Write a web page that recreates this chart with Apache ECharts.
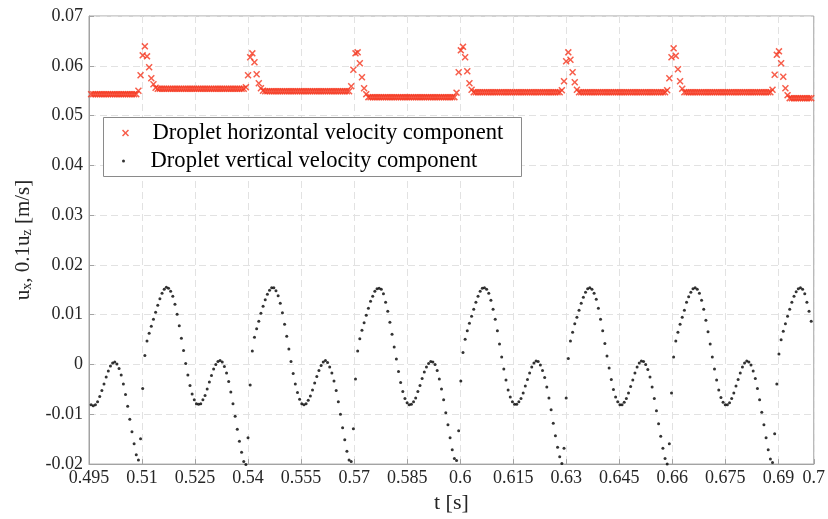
<!DOCTYPE html>
<html>
<head>
<meta charset="utf-8">
<script src="https://cdn.jsdelivr.net/npm/echarts@6/dist/echarts.min.js"></script>
<style>
html,body{margin:0;padding:0;background:#fff;}
#chart{width:828px;height:519px;}
</style>
</head>
<body>
<div id="chart"></div>
<script>
// ---- Data ----
// Uniform sampling of the simulation output
const sampleStart = 0.4956;   // s, first sample
const sampleStep = 0.000608;  // s, sampling interval

// Droplet horizontal velocity component u_x [m/s]
const uxHorizontal = [
0.0543,0.0543,0.0543,0.0543,0.0543,0.0543,0.0543,0.0543,0.0543,0.0543,
0.0543,0.0543,0.0543,0.0543,0.0543,0.0543,0.0543,0.0543,0.0543,0.0543,
0.0543,0.0543,
0.0550,0.0581,0.0621,0.0639,0.0619,0.0597,0.0575,0.0563,0.0556,
0.0554,0.0554,0.0554,0.0554,0.0554,0.0554,0.0554,0.0554,0.0554,0.0554,
0.0554,0.0554,0.0554,0.0554,0.0554,0.0554,0.0554,0.0554,0.0554,0.0554,
0.0554,0.0554,0.0554,0.0554,0.0554,0.0554,0.0554,0.0554,0.0554,0.0554,
0.0554,0.0554,0.0554,0.0554,0.0554,0.0554,0.0554,0.0554,0.0554,0.0554,
0.0554,
0.0557,0.0581,0.0617,0.0625,0.0607,0.0583,0.0565,0.0555,0.0550,
0.0549,0.0549,0.0549,0.0549,0.0549,0.0549,0.0549,0.0549,0.0549,0.0549,
0.0549,0.0549,0.0549,0.0549,0.0549,0.0549,0.0549,0.0549,0.0549,0.0549,
0.0549,0.0549,0.0549,0.0549,0.0549,0.0549,0.0549,0.0549,0.0549,0.0549,
0.0549,0.0549,0.0549,0.0549,0.0549,0.0549,0.0549,0.0549,0.0549,0.0549,
0.0559,0.0592,0.0625,0.0627,0.0605,0.0577,0.0555,0.0543,
0.0537,0.0537,0.0537,0.0537,0.0537,0.0537,0.0537,0.0537,0.0537,0.0537,
0.0537,0.0537,0.0537,0.0537,0.0537,0.0537,0.0537,0.0537,0.0537,0.0537,
0.0537,0.0537,0.0537,0.0537,0.0537,0.0537,0.0537,0.0537,0.0537,0.0537,
0.0537,0.0537,0.0537,0.0537,0.0537,0.0537,0.0537,0.0537,0.0537,0.0537,
0.0537,
0.0546,0.0587,0.0631,0.0638,0.0617,0.0589,0.0565,0.0552,
0.0547,0.0547,0.0547,0.0547,0.0547,0.0547,0.0547,0.0547,0.0547,0.0547,
0.0547,0.0547,0.0547,0.0547,0.0547,0.0547,0.0547,0.0547,0.0547,0.0547,
0.0547,0.0547,0.0547,0.0547,0.0547,0.0547,0.0547,0.0547,0.0547,0.0547,
0.0547,0.0547,0.0547,0.0547,0.0547,0.0547,0.0547,0.0547,0.0547,0.0547,
0.0547,
0.0551,0.0569,0.0609,0.0627,0.0612,0.0587,0.0567,0.0552,
0.0547,0.0547,0.0547,0.0547,0.0547,0.0547,0.0547,0.0547,0.0547,0.0547,
0.0547,0.0547,0.0547,0.0547,0.0547,0.0547,0.0547,0.0547,0.0547,0.0547,
0.0547,0.0547,0.0547,0.0547,0.0547,0.0547,0.0547,0.0547,0.0547,0.0547,
0.0547,0.0547,0.0547,0.0547,0.0547,0.0547,0.0547,0.0547,0.0547,0.0547,
0.0547,
0.0551,0.0575,0.0617,0.0635,0.0620,0.0593,0.0569,0.0554,
0.0547,0.0547,0.0547,0.0547,0.0547,0.0547,0.0547,0.0547,0.0547,0.0547,
0.0547,0.0547,0.0547,0.0547,0.0547,0.0547,0.0547,0.0547,0.0547,0.0547,
0.0547,0.0547,0.0547,0.0547,0.0547,0.0547,0.0547,0.0547,0.0547,0.0547,
0.0547,0.0547,0.0547,0.0547,0.0547,0.0547,0.0547,0.0547,0.0547,0.0547,
0.0547,
0.0552,0.0582,0.0622,0.0629,0.0605,0.0578,0.0555,0.0541,
0.0535,0.0535,0.0535,0.0535,0.0535,0.0535,0.0535,0.0535,0.0535,0.0535,
0.0535
];

// Droplet vertical velocity component, scaled: 0.1*u_z [m/s]
const uzVerticalScaled = [
-0.0081,-0.0083,-0.0081,-0.0075,-0.0064,-0.0052,-0.0039,-0.0025,-0.0013,-0.0003,
0.0003,0.0005,0.0001,-0.0008,-0.0021,-0.0039,-0.0060,-0.0084,-0.0110,-0.0135,
-0.0159,-0.0181,-0.0192,-0.0149,-0.0048,0.0018,0.0047,0.0063,0.0077,0.0091,
0.0105,0.0119,0.0132,0.0143,0.0151,0.0155,0.0153,0.0147,0.0137,0.0121,
0.0101,0.0078,0.0053,0.0028,0.0002,-0.0021,-0.0042,-0.0059,-0.0071,-0.0079,
-0.0080,-0.0079,-0.0071,-0.0062,-0.0049,-0.0035,-0.0022,-0.0009,0.0000,0.0006,
0.0008,0.0005,-0.0004,-0.0017,-0.0034,-0.0055,-0.0079,-0.0104,-0.0130,-0.0154,
-0.0176,-0.0195,-0.0201,-0.0147,-0.0041,0.0027,0.0055,0.0072,0.0087,0.0103,
0.0117,0.0130,0.0141,0.0149,0.0154,0.0154,0.0148,0.0138,0.0123,0.0104,
0.0081,0.0057,0.0031,0.0006,-0.0018,-0.0039,-0.0056,-0.0070,-0.0079,-0.0081,
-0.0079,-0.0072,-0.0063,-0.0051,-0.0037,-0.0024,-0.0012,-0.0002,0.0005,0.0008,
0.0004,-0.0005,-0.0017,-0.0033,-0.0052,-0.0075,-0.0100,-0.0127,-0.0151,-0.0174,
-0.0192,-0.0195,-0.0129,-0.0029,0.0027,0.0052,0.0069,0.0084,0.0099,0.0113,
0.0127,0.0137,0.0147,0.0152,0.0153,0.0151,0.0142,0.0125,0.0107,0.0085,
0.0061,0.0035,0.0011,-0.0014,-0.0036,-0.0054,-0.0068,-0.0077,-0.0081,-0.0080,
-0.0075,-0.0067,-0.0054,-0.0042,-0.0028,-0.0015,-0.0005,0.0002,0.0006,0.0005,
0.0000,-0.0012,-0.0029,-0.0049,-0.0071,-0.0097,-0.0121,-0.0147,-0.0171,-0.0189,
-0.0193,-0.0133,-0.0033,0.0024,0.0051,0.0068,0.0083,0.0097,0.0111,0.0125,
0.0137,0.0147,0.0153,0.0154,0.0151,0.0143,0.0129,0.0111,0.0091,0.0068,
0.0041,0.0015,-0.0009,-0.0031,-0.0051,-0.0065,-0.0075,-0.0080,-0.0080,-0.0075,
-0.0068,-0.0057,-0.0043,-0.0030,-0.0017,-0.0005,0.0003,0.0007,0.0006,-0.0001,
-0.0012,-0.0026,-0.0045,-0.0067,-0.0091,-0.0118,-0.0143,-0.0166,-0.0185,-0.0199,
-0.0168,-0.0067,0.0012,0.0047,0.0065,0.0082,0.0095,0.0109,0.0123,0.0135,
0.0145,0.0152,0.0154,0.0151,0.0143,0.0131,0.0113,0.0091,0.0068,0.0042,
0.0017,-0.0007,-0.0030,-0.0050,-0.0065,-0.0075,-0.0081,-0.0081,-0.0076,-0.0068,
-0.0057,-0.0044,-0.0031,-0.0017,-0.0005,0.0003,0.0007,0.0006,0.0000,-0.0010,
-0.0025,-0.0045,-0.0068,-0.0093,-0.0119,-0.0144,-0.0168,-0.0189,-0.0200,-0.0159,
-0.0057,0.0015,0.0047,0.0065,0.0081,0.0095,0.0109,0.0125,0.0136,0.0145,
0.0152,0.0154,0.0151,0.0143,0.0129,0.0111,0.0089,0.0066,0.0041,0.0015,
-0.0009,-0.0031,-0.0051,-0.0066,-0.0076,-0.0081,-0.0081,-0.0077,-0.0068,-0.0057,
-0.0043,-0.0030,-0.0017,-0.0005,0.0003,0.0007,0.0005,-0.0001,-0.0013,-0.0028,
-0.0048,-0.0071,-0.0096,-0.0121,-0.0147,-0.0171,-0.0190,-0.0197,-0.0139,-0.0039,
0.0021,0.0050,0.0067,0.0082,0.0097,0.0111,0.0125,0.0137,0.0146,0.0152,
0.0154,0.0151,0.0142,0.0125,0.0107,0.0087
];

const seriesNames = ['Droplet horizontal velocity component', 'Droplet vertical velocity component'];
const xTickLabels = ['0.495','0.51','0.525','0.54','0.555','0.57','0.585','0.6','0.615','0.63','0.645','0.66','0.675','0.69','0.7'];
const yTickLabels = ['-0.02','-0.01','0','0.01','0.02','0.03','0.04','0.05','0.06','0.07'];

// ---- Build chart ----
const timeOf = i => +(sampleStart + i * sampleStep).toFixed(6);
const horizPoints = uxHorizontal.map((v, i) => [timeOf(i), v]);
const vertPoints = uzVerticalScaled.map((v, i) => [timeOf(i), v]);

const pick = (labels, v) => {
  const s = labels.find(l => Math.abs(parseFloat(l) - v) < 1e-9);
  return s === undefined ? '' : s;
};

const FONT = '"Liberation Serif", "Times New Roman", serif';
const AXIS_GRAY = '#a3a3a3';
const RED = '#f5361e';
const X_MARK = 'path://M0,1.5L1.5,0L5,3.5L8.5,0L10,1.5L6.5,5L10,8.5L8.5,10L5,6.5L1.5,10L0,8.5L3.5,5Z';

const chart = echarts.init(document.getElementById('chart'), null, {renderer: 'canvas'});
chart.setOption({
  animation: false,
  backgroundColor: '#ffffff',
  grid: {
    left: 89, right: 10, top: 16, bottom: 53,
    show: true, borderColor: AXIS_GRAY, borderWidth: 1, backgroundColor: 'transparent'
  },
  xAxis: {
    type: 'value',
    min: 0.495, max: 0.7, interval: 0.015,
    name: 't [s]',
    nameLocation: 'middle',
    nameGap: 27,
    nameTextStyle: {fontFamily: FONT, fontSize: 22, color: '#262626'},
    axisLine: {show: true, onZero: false, lineStyle: {color: AXIS_GRAY}},
    axisTick: {show: true, inside: true, length: 5, lineStyle: {color: AXIS_GRAY}},
    axisLabel: {
      fontFamily: FONT, fontSize: 18, color: '#262626', margin: 5,
      showMinLabel: true, showMaxLabel: true,
      formatter: v => pick(xTickLabels, v)
    },
    splitLine: {show: true, lineStyle: {color: '#e2e2e2', type: [7, 4], width: 1}}
  },
  yAxis: {
    type: 'value',
    min: -0.02, max: 0.07, interval: 0.01,
    name: '{m|u}{s|x}{m|, 0.1u}{s|z}{m| [m/s]}',
    nameLocation: 'middle',
    nameGap: 50,
    nameTextStyle: {
      fontFamily: FONT, fontSize: 21, color: '#262626',
      rich: {
        m: {fontFamily: FONT, fontSize: 21, color: '#262626', lineHeight: 22, verticalAlign: 'middle'},
        s: {fontFamily: FONT, fontSize: 14, color: '#262626', lineHeight: 14, verticalAlign: 'bottom'}
      }
    },
    axisLine: {show: true, onZero: false, lineStyle: {color: AXIS_GRAY}},
    axisTick: {show: true, inside: true, length: 5, lineStyle: {color: AXIS_GRAY}},
    axisLabel: {
      fontFamily: FONT, fontSize: 18, color: '#262626', margin: 6,
      formatter: v => pick(yTickLabels, v)
    },
    splitLine: {show: true, lineStyle: {color: '#e2e2e2', type: [7, 4], width: 1}}
  },
  legend: [
    {
      data: [seriesNames[0]],
      left: 122, top: 121,
      orient: 'vertical',
      padding: 0,
      itemWidth: 44, itemHeight: 7,
      selectedMode: false,
      z: 10,
      textStyle: {fontFamily: FONT, fontSize: 22.6, color: '#000', lineHeight: 24}
    },
    {
      data: [seriesNames[1]],
      left: 122, top: 149,
      orient: 'vertical',
      padding: 0,
      itemWidth: 44, itemHeight: 3,
      selectedMode: false,
      z: 10,
      textStyle: {fontFamily: FONT, fontSize: 22.6, color: '#000', lineHeight: 24}
    }
  ],
  graphic: [{
    type: 'rect',
    z: 8,
    shape: {x: 103.5, y: 117.5, width: 418, height: 59},
    style: {fill: '#ffffff', stroke: '#8a8a8a', lineWidth: 1}
  }],
  series: [
    {
      name: seriesNames[0],
      type: 'scatter',
      data: horizPoints,
      symbol: X_MARK,
      symbolSize: 7,
      itemStyle: {color: RED},
      z: 3,
      clip: false
    },
    {
      name: seriesNames[1],
      type: 'scatter',
      data: vertPoints,
      symbol: 'circle',
      symbolSize: 3,
      itemStyle: {color: '#000000'},
      z: 3,
      clip: false
    }
  ]
});
</script>
</body>
</html>
